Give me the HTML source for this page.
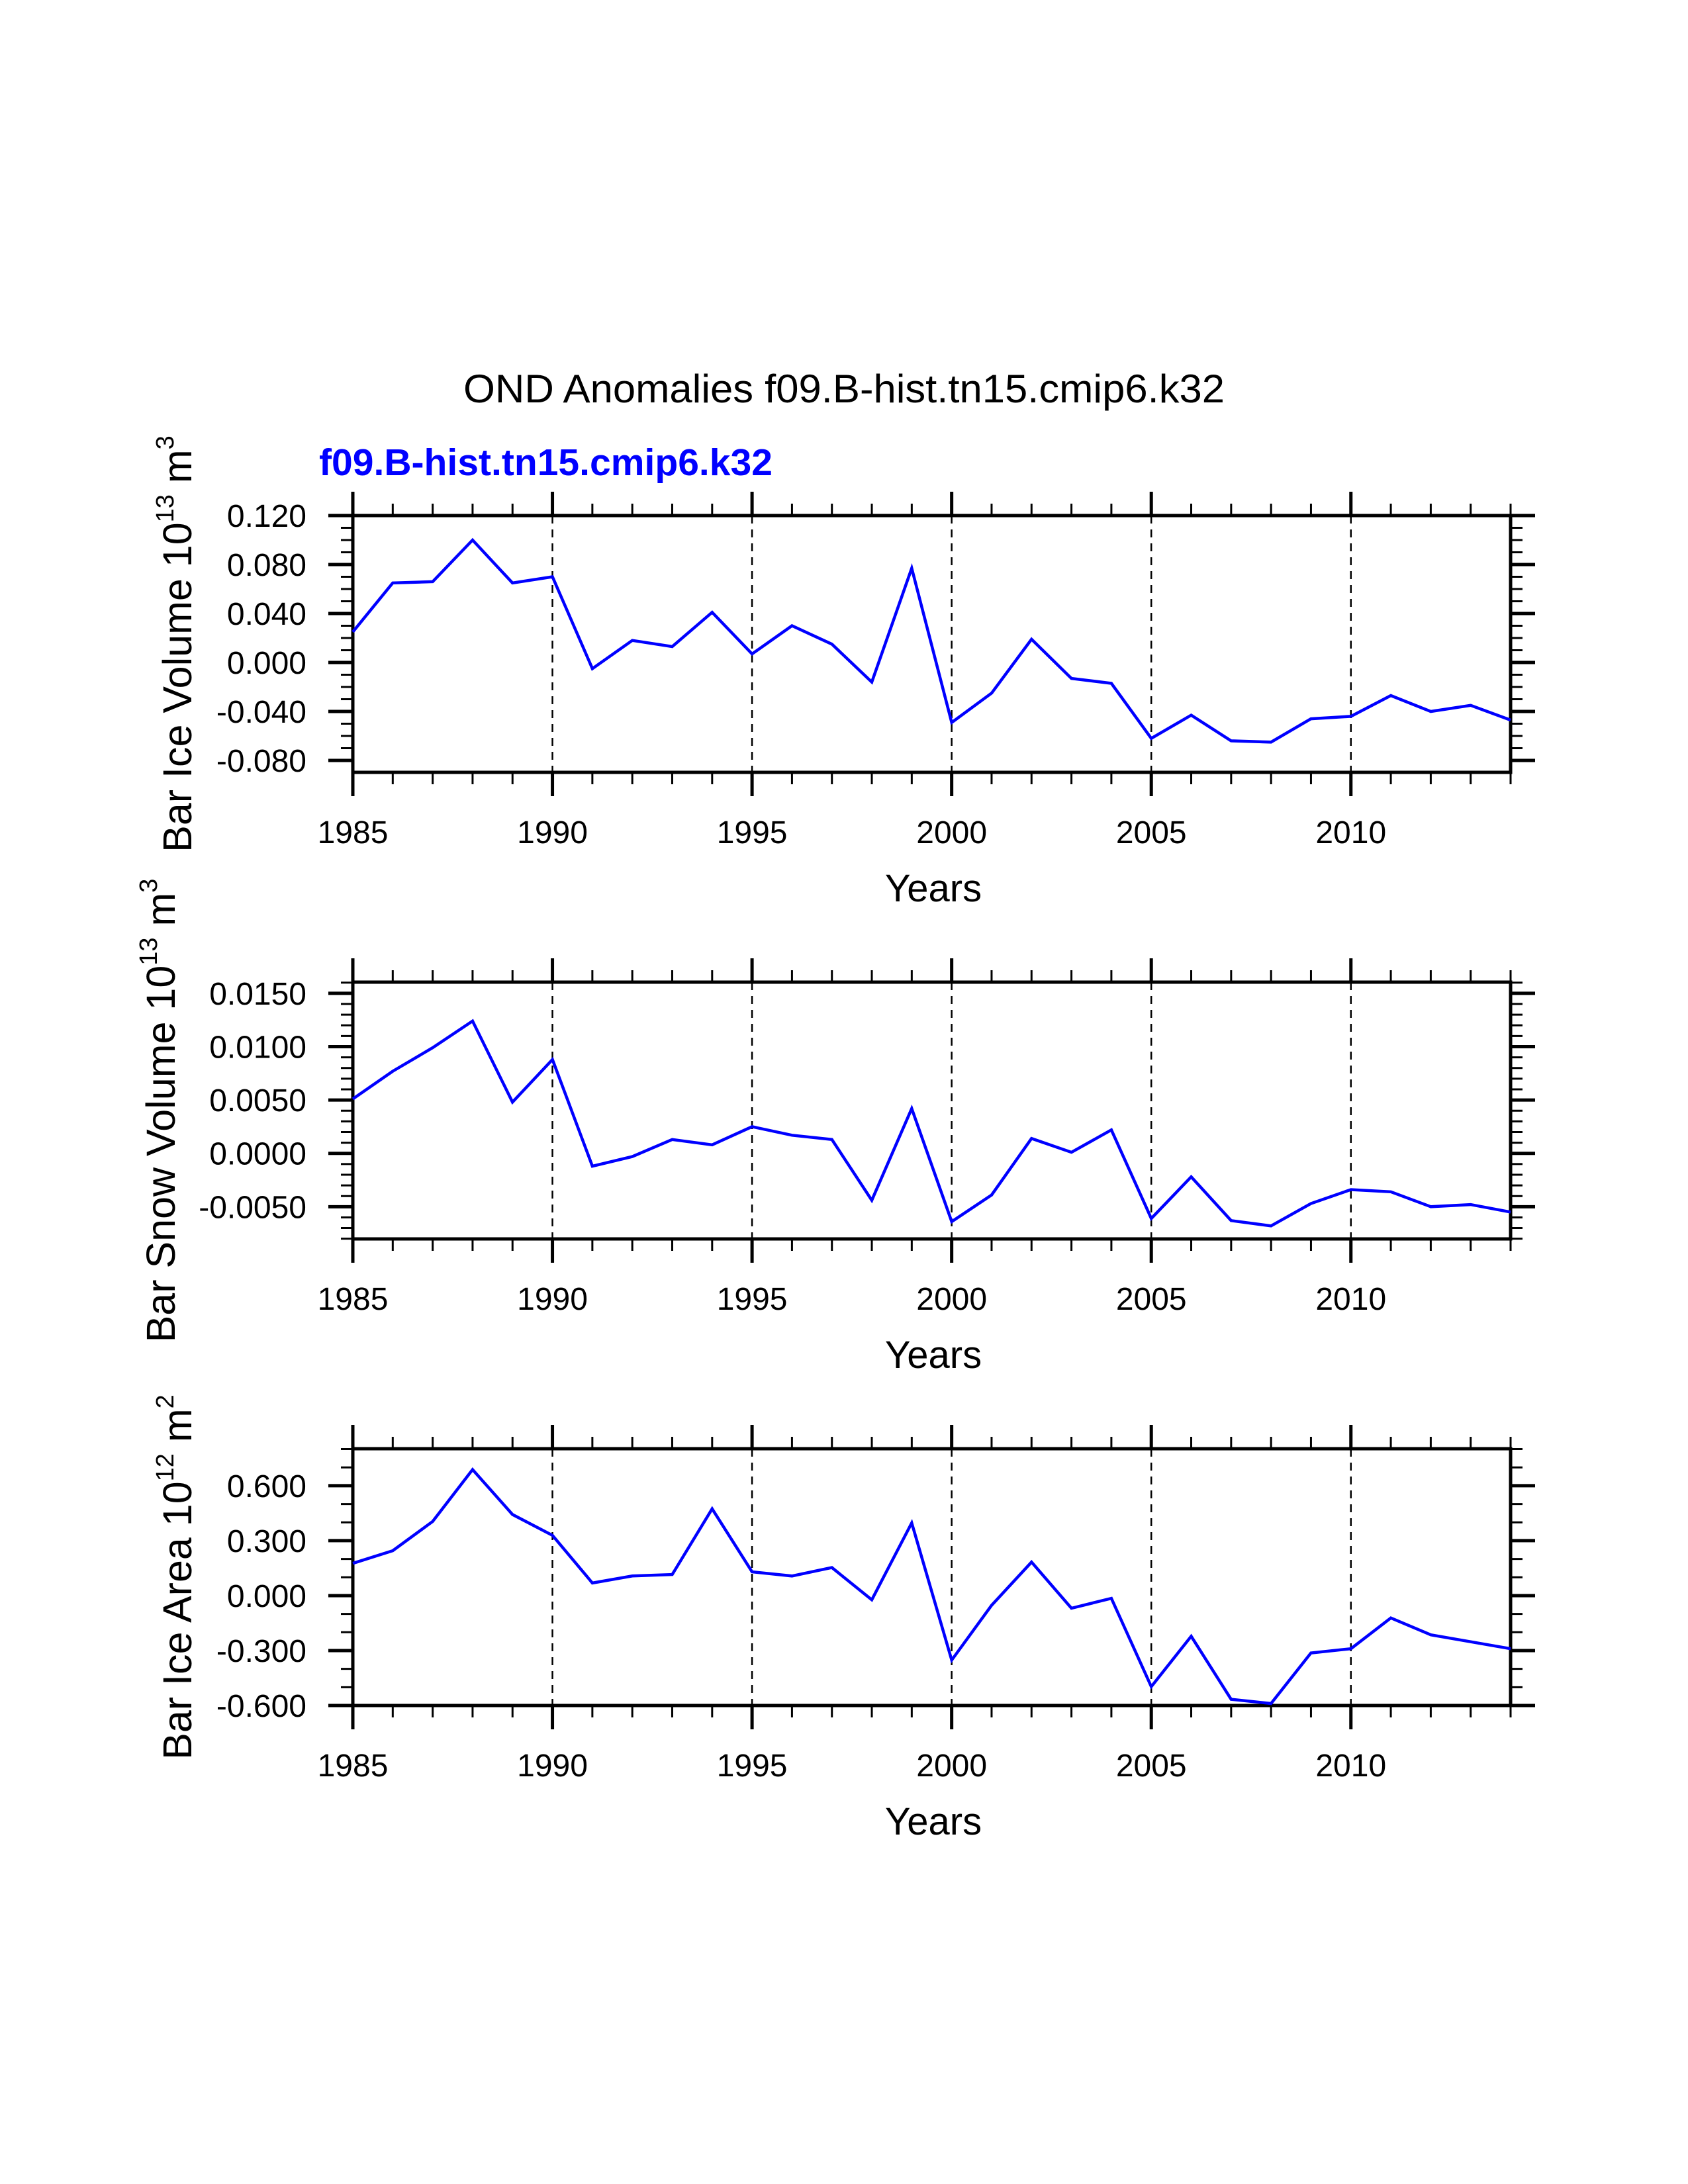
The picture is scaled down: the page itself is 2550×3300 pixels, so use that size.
<!DOCTYPE html>
<html><head><meta charset="utf-8"><style>
html,body{margin:0;padding:0;background:#fff;}
svg{display:block;font-family:"Liberation Sans",Arial,sans-serif;}
</style></head><body>
<svg id="chart" width="2550" height="3300" viewBox="0 0 2550 3300" xmlns="http://www.w3.org/2000/svg">
<rect width="2550" height="3300" fill="#fff"/>
<text x="1275" y="608" font-size="60" text-anchor="middle" textLength="1150" lengthAdjust="spacingAndGlyphs">OND Anomalies f09.B-hist.tn15.cmip6.k32</text>
<text x="482" y="718" font-size="57" font-weight="bold" fill="#0000ff" textLength="685" lengthAdjust="spacingAndGlyphs">f09.B-hist.tn15.cmip6.k32</text>
<g id="panels"></g>
</svg>
<script>
const years = [1985,1986,1987,1988,1989,1990,1991,1992,1993,1994,1995,1996,1997,1998,1999,2000,2001,2002,2003,2004,2005,2006,2007,2008,2009,2010,2011,2012,2013,2014];
const iceVolume = [0.025,0.065,0.066,0.100,0.065,0.070,-0.005,0.018,0.013,0.041,0.007,0.030,0.015,-0.016,0.077,-0.049,-0.025,0.019,-0.013,-0.017,-0.062,-0.043,-0.064,-0.065,-0.046,-0.044,-0.027,-0.040,-0.035,-0.047];
const snowVolume = [0.0051,0.0077,0.0099,0.0124,0.0048,0.0088,-0.0012,-0.0003,0.0013,0.0008,0.0025,0.0017,0.0013,-0.0044,0.0042,-0.0064,-0.0039,0.0014,0.0001,0.0022,-0.0061,-0.0022,-0.0063,-0.0068,-0.0047,-0.0034,-0.0036,-0.0050,-0.0048,-0.0055];
const iceArea = [0.176,0.245,0.405,0.688,0.443,0.329,0.069,0.107,0.115,0.474,0.130,0.107,0.153,-0.023,0.397,-0.352,-0.053,0.183,-0.069,-0.015,-0.497,-0.222,-0.566,-0.589,-0.313,-0.290,-0.122,-0.214,-0.252,-0.290];
const xTickYears = [1985,1990,1995,2000,2005,2010];
const iceVolumeTicks = [-0.080,-0.040,0.000,0.040,0.080,0.120];
const snowVolumeTicks = [-0.0050,0.0000,0.0050,0.0100,0.0150];
const iceAreaTicks = [-0.600,-0.300,0.000,0.300,0.600];

const NS = "http://www.w3.org/2000/svg";
const root = document.getElementById('panels');
const X0 = 533, X1 = 2282, H = 388;
function mk(tag, attrs, parent){const e=document.createElementNS(NS,tag);for(const k in attrs)e.setAttribute(k,attrs[k]);(parent||root).appendChild(e);return e;}
function xs(yr){return X0+(yr-1985)/(2014-1985)*(X1-X0);}

const panels = [
 {name:'ice-volume', top:779, ymin:-0.0897, ymax:0.120, minor:0.010, vals:iceVolume, ticks:iceVolumeTicks, dec:3, titleX:289, title:['Bar Ice Volume 10','13',' m','3']},
 {name:'snow-volume', top:1484, ymin:-0.00802, ymax:0.01605, minor:0.001, vals:snowVolume, ticks:snowVolumeTicks, dec:4, titleX:264, title:['Bar Snow Volume 10','13',' m','3']},
 {name:'ice-area', top:2189, ymin:-0.600, ymax:0.802, minor:0.1, vals:iceArea, ticks:iceAreaTicks, dec:3, titleX:289, title:['Bar Ice Area 10','12',' m','2']}
];

panels.forEach(p=>{
  const g = mk('g',{});
  
  
  const top=p.top, bot=p.top+H;
  const ys = v => bot-(v-p.ymin)/(p.ymax-p.ymin)*H;
  xTickYears.slice(1).forEach(yr=>{
    const l=mk('line',{x1:xs(yr),x2:xs(yr),y1:top,y2:bot,stroke:'#000','stroke-width':2.5,'stroke-dasharray':'12 9'},g);
    
    
  });
  for(let yr=1985; yr<=2014; yr++){
    const major = yr%5===0, len = major?36:18, w = major?5:3;
    const x = xs(yr);
    mk('line',{x1:x,x2:x,y1:top,y2:top-len,stroke:'#000','stroke-width':w},g);
    mk('line',{x1:x,x2:x,y1:bot,y2:bot+len,stroke:'#000','stroke-width':w},g);
  }
  xTickYears.forEach(yr=>{
    const t=mk('text',{x:xs(yr),y:bot+107,'font-size':48,'text-anchor':'middle'},g);
    t.textContent=yr;
    
    
  });
  const start=Math.ceil(p.ymin/p.minor-1e-6);
  for(let k=start; k*p.minor<=p.ymax+1e-9; k++){
    const y=ys(k*p.minor);
    mk('line',{x1:X0,x2:X0-18,y1:y,y2:y,stroke:'#000','stroke-width':3},g);
    mk('line',{x1:X1,x2:X1+18,y1:y,y2:y,stroke:'#000','stroke-width':3},g);
  }
  p.ticks.forEach(v=>{
    const y=ys(v);
    mk('line',{x1:X0,x2:X0-37,y1:y,y2:y,stroke:'#000','stroke-width':5},g);
    mk('line',{x1:X1,x2:X1+37,y1:y,y2:y,stroke:'#000','stroke-width':5},g);
    const t=mk('text',{x:463,y:y+17,'font-size':48,'text-anchor':'end'},g);
    t.textContent=v.toFixed(p.dec);
    
    
  });
  const fr=mk('rect',{x:X0,y:top,width:X1-X0,height:H,fill:'none',stroke:'#000','stroke-width':5},g);
  
  
  const pts=years.map((yr,i)=>xs(yr).toFixed(1)+','+ys(p.vals[i]).toFixed(1)).join(' ');
  const pl=mk('polyline',{points:pts,fill:'none',stroke:'#0000ff','stroke-width':4.5,'stroke-linejoin':'miter'},g);
  
  
  const xt=mk('text',{x:1410,y:bot+195,'font-size':58,'text-anchor':'middle'},g);
  xt.textContent='Years';
  
  
  const cy=top+H/2;
  const yt=mk('text',{x:0,y:0,'font-size':61,'text-anchor':'middle',transform:`translate(${p.titleX},${cy}) rotate(-90)`},g);
  
  
  const a=mk('tspan',{},yt); a.textContent=p.title[0];
  const b=mk('tspan',{'font-size':38,dy:-27},yt); b.textContent=p.title[1];
  const c=mk('tspan',{dy:27},yt); c.textContent=p.title[2];
  const d=mk('tspan',{'font-size':38,dy:-27},yt); d.textContent=p.title[3];
});
</script>
</body></html>
